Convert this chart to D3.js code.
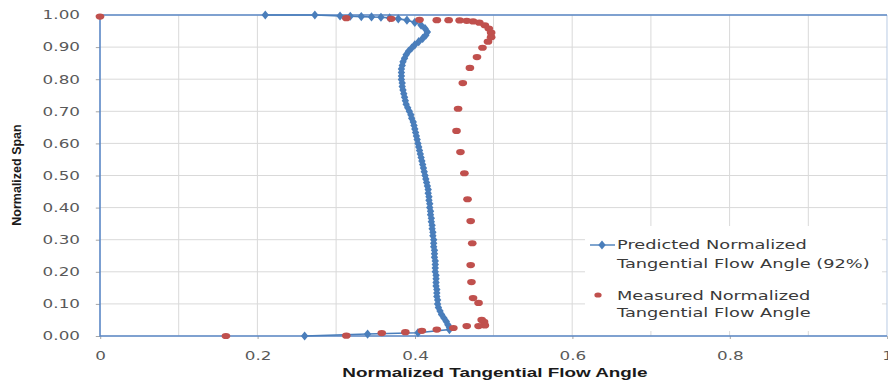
<!DOCTYPE html>
<html>
<head>
<meta charset="utf-8">
<script src="https://cdn.jsdelivr.net/npm/d3@7"></script>
<style>
  html, body { margin: 0; padding: 0; background: #fff; }
  svg { display: block; }
</style>
</head>
<body>
<svg id="chart" width="888" height="381"></svg>
<script>
// Predicted normalized tangential flow angle (92%) along the span
const predictedAngle = [
  0.210, 0.273, 0.305, 0.318, 0.332, 0.345, 0.357, 0.368, 0.379, 0.390,
  0.400, 0.408, 0.413, 0.416, 0.414, 0.410, 0.405, 0.400, 0.396, 0.392,
  0.389, 0.387, 0.385, 0.384, 0.383, 0.383, 0.383, 0.383, 0.384, 0.384,
  0.385, 0.386, 0.387, 0.388, 0.389, 0.391, 0.393, 0.395, 0.396, 0.398,
  0.399, 0.400, 0.401, 0.402, 0.403, 0.404, 0.405, 0.406, 0.407, 0.408,
  0.409, 0.410, 0.411, 0.412, 0.413, 0.414, 0.415, 0.416, 0.417, 0.417,
  0.418, 0.418, 0.419, 0.419, 0.420, 0.420, 0.421, 0.421, 0.422, 0.422,
  0.423, 0.423, 0.424, 0.424, 0.424, 0.425, 0.425, 0.425, 0.426, 0.426,
  0.426, 0.426, 0.427, 0.427, 0.427, 0.427, 0.428, 0.428, 0.428, 0.429,
  0.429, 0.430, 0.432, 0.434, 0.437, 0.440, 0.442, 0.444, 0.444, 0.404,
  0.340, 0.260
];
const predictedSpan = [
  1.000, 1.000, 0.997, 0.996, 0.995, 0.994, 0.993, 0.991, 0.988, 0.984,
  0.977, 0.968, 0.958, 0.947, 0.937, 0.927, 0.917, 0.907, 0.897, 0.887,
  0.876, 0.865, 0.854, 0.843, 0.832, 0.821, 0.810, 0.799, 0.788, 0.777,
  0.766, 0.755, 0.744, 0.733, 0.722, 0.711, 0.700, 0.689, 0.678, 0.667,
  0.656, 0.645, 0.634, 0.623, 0.612, 0.600, 0.589, 0.578, 0.567, 0.556,
  0.545, 0.534, 0.523, 0.512, 0.500, 0.489, 0.478, 0.467, 0.456, 0.445,
  0.434, 0.423, 0.412, 0.400, 0.389, 0.378, 0.367, 0.356, 0.345, 0.334,
  0.323, 0.312, 0.300, 0.289, 0.278, 0.267, 0.256, 0.245, 0.234, 0.223,
  0.212, 0.200, 0.189, 0.178, 0.167, 0.156, 0.145, 0.134, 0.123, 0.112,
  0.100, 0.089, 0.078, 0.067, 0.056, 0.045, 0.035, 0.027, 0.020, 0.010,
  0.006, 0.000
];

// Measured normalized tangential flow angle
const measuredAngle = [
  0.000, 0.313, 0.370, 0.406, 0.428, 0.443, 0.457, 0.466, 0.474, 0.482,
  0.489, 0.494, 0.497, 0.497, 0.493, 0.486, 0.479, 0.470, 0.461, 0.455,
  0.453, 0.458, 0.463, 0.467, 0.471, 0.473, 0.471, 0.472, 0.474, 0.481,
  0.485, 0.488, 0.489, 0.481, 0.466, 0.449, 0.428, 0.409, 0.388, 0.358,
  0.313, 0.160
];
const measuredSpan = [
  0.995, 0.990, 0.988, 0.985, 0.984, 0.984, 0.983, 0.982, 0.980, 0.976,
  0.968, 0.958, 0.945, 0.931, 0.917, 0.898, 0.869, 0.835, 0.788, 0.708,
  0.639, 0.573, 0.507, 0.426, 0.358, 0.289, 0.221, 0.168, 0.118, 0.103,
  0.050, 0.044, 0.033, 0.031, 0.031, 0.025, 0.020, 0.016, 0.012, 0.009,
  0.001, 0.000
];

const xTicks = [0, 0.2, 0.4, 0.6, 0.8, 1];
const xTickLabels = ["0", "0.2", "0.4", "0.6", "0.8", "1"];
const yTicks = [0, 0.1, 0.2, 0.3, 0.4, 0.5, 0.6, 0.7, 0.8, 0.9, 1.0];
const gridX = [0.1, 0.2, 0.3, 0.4, 0.5, 0.6, 0.7, 0.8, 0.9];
const seriesNames = [
  ["Predicted Normalized", "Tangential Flow Angle (92%)"],
  ["Measured Normalized", "Tangential Flow Angle"]
];
const xTitle = "Normalized Tangential Flow Angle";
const yTitle = "Normalized Span";

const BLUE = "#4a7ebb", RED = "#c0504d";
// The chart is laid out in a narrower frame and widened horizontally.
const SX = 1.4;

const svg = d3.select("#chart");
const g = svg.append("g").attr("transform", `scale(${SX},1)`);

const x = d3.scaleLinear().domain([0, 1]).range([100 / SX, 887 / SX]);
const y = d3.scaleLinear().domain([0, 1]).range([336, 15]);

// gridlines
g.append("g").selectAll("line").data(yTicks).join("line")
  .attr("x1", x(0)).attr("x2", x(1))
  .attr("y1", d => y(d)).attr("y2", d => y(d))
  .attr("stroke", "#d9d9d9").attr("stroke-width", 1)
  .attr("vector-effect", "non-scaling-stroke");
g.append("g").selectAll("line").data(gridX).join("line")
  .attr("x1", d => x(d)).attr("x2", d => x(d))
  .attr("y1", y(0)).attr("y2", y(1))
  .attr("stroke", "#d9d9d9").attr("stroke-width", 1)
  .attr("vector-effect", "non-scaling-stroke");

// axes
const yAxis = g.append("g").attr("transform", `translate(${x(0)},0)`)
  .call(d3.axisLeft(y).tickValues(yTicks).tickFormat(d3.format(".2f"))
    .tickSize(3).tickPadding(11.3));
const xAxis = g.append("g").attr("transform", `translate(0,${y(0)})`)
  .call(d3.axisBottom(x).tickValues(xTicks).tickFormat((d, i) => xTickLabels[i])
    .tickSize(3).tickPadding(12.5));
[yAxis, xAxis].forEach(a => {
  a.select(".domain").remove();
  a.selectAll(".tick line").attr("stroke", "#a6a6a6").attr("vector-effect", "non-scaling-stroke");
  a.selectAll(".tick text").attr("fill", "#595959")
    .style("font-family", "'DejaVu Sans', sans-serif").style("font-size", "12px");
});

// plot frame
const frame = g.append("g").attr("fill", "none");
frame.append("line").attr("x1", x(1)).attr("x2", x(1)).attr("y1", y(0)).attr("y2", y(1))
  .attr("stroke", "#b9cbe4").attr("stroke-width", 1).attr("vector-effect", "non-scaling-stroke");
frame.append("path")
  .attr("d", `M${x(1)},${y(1)}H${x(0)}V${y(0)}H${x(1)}`)
  .attr("stroke", "#5b88c6").attr("stroke-width", 1.6).attr("vector-effect", "non-scaling-stroke");

// predicted series
const pred = predictedAngle.map((v, i) => [v, predictedSpan[i]]);
g.append("path").datum(pred)
  .attr("d", d3.line().x(d => x(d[0])).y(d => y(d[1])))
  .attr("fill", "none").attr("stroke", BLUE).attr("stroke-width", 1.6)
  .attr("vector-effect", "non-scaling-stroke");
const diamond = d3.symbol().type(d3.symbolDiamond).size(24);
g.append("g").selectAll("path").data(pred).join("path")
  .attr("transform", d => `translate(${x(d[0])},${y(d[1])})`)
  .attr("d", diamond).attr("fill", BLUE);

// measured series
const meas = measuredAngle.map((v, i) => [v, measuredSpan[i]]);
g.append("g").selectAll("circle").data(meas).join("circle")
  .attr("cx", d => x(d[0])).attr("cy", d => y(d[1])).attr("r", 3.1)
  .attr("fill", RED);

// legend
const lg = g.append("g");
lg.append("rect").attr("x", 585 / SX).attr("y", 226).attr("width", 297 / SX).attr("height", 105)
  .attr("fill", "#fff");
lg.append("line").attr("x1", 590 / SX).attr("x2", 615 / SX).attr("y1", 245).attr("y2", 245)
  .attr("stroke", BLUE).attr("stroke-width", 1.4).attr("vector-effect", "non-scaling-stroke");
lg.append("path").attr("transform", `translate(${602 / SX},245)`).attr("d", diamond).attr("fill", BLUE);
lg.append("circle").attr("cx", 598 / SX).attr("cy", 295).attr("r", 2.6).attr("fill", RED);
const legendBaselines = [[249, 268.5], [300, 317.5]];
seriesNames.forEach((lines, i) => {
  lines.forEach((t, j) => {
    lg.append("text").attr("x", 617 / SX).attr("y", legendBaselines[i][j])
      .attr("fill", "#3a3a3a")
      .style("font-family", "'DejaVu Sans', sans-serif").style("font-size", "12.7px")
      .text(t);
  });
});

// axis titles
g.append("text").attr("x", 495 / SX).attr("y", 377).attr("text-anchor", "middle")
  .attr("fill", "#1a1a1a").style("font-family", "'Liberation Sans', Arial, sans-serif")
  .style("font-size", "13.5px").style("font-weight", "bold").text(xTitle);
svg.append("text").attr("transform", "translate(20.5,175) rotate(-90)")
  .attr("text-anchor", "middle").attr("fill", "#1a1a1a")
  .style("font-family", "'Liberation Sans', Arial, sans-serif")
  .style("font-size", "12.5px").style("font-weight", "bold").text(yTitle);
</script>
</body>
</html>
